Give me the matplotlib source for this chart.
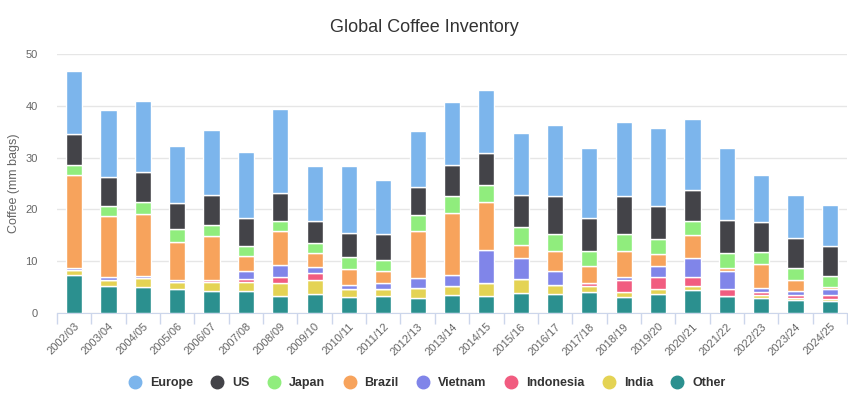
import matplotlib
matplotlib.use("Agg")
import matplotlib.pyplot as plt
from matplotlib.lines import Line2D
import numpy as np

plt.rcParams['font.family'] = ['Liberation Sans', 'DejaVu Sans']

years = ["2002/03", "2003/04", "2004/05", "2005/06", "2006/07", "2007/08", "2008/09",
         "2009/10", "2010/11", "2011/12", "2012/13", "2013/14", "2014/15", "2015/16",
         "2016/17", "2017/18", "2018/19", "2019/20", "2020/21", "2021/22", "2022/23",
         "2023/24", "2024/25"]

other =     [7.3, 5.3, 5.0, 4.6, 4.2, 4.2, 3.2, 3.6, 3.0, 3.2, 2.8, 3.4, 3.2, 3.8, 3.6, 4.0, 3.0, 3.6, 4.4, 3.2, 2.8, 2.6, 2.3]
india =     [1.0, 1.1, 1.8, 1.4, 1.8, 1.8, 2.6, 2.7, 1.7, 1.4, 2.1, 1.9, 2.5, 2.7, 1.9, 1.2, 1.0, 1.0, 0.8, 0.0, 0.6, 0.3, 0.4]
indonesia = [0.0, 0.0, 0.0, 0.0, 0.4, 0.6, 1.2, 1.5, 0.0, 0.0, 0.0, 0.0, 0.0, 0.0, 0.0, 0.6, 2.3, 2.3, 1.7, 1.4, 0.6, 0.5, 0.8]
vietnam =   [0.4, 0.5, 0.4, 0.3, 0.0, 1.5, 2.3, 1.0, 0.8, 1.2, 1.9, 2.1, 6.4, 4.1, 2.7, 0.0, 0.6, 2.1, 3.7, 3.5, 0.8, 0.8, 1.1]
brazil =    [17.9, 11.8, 11.9, 7.5, 8.4, 2.9, 6.5, 2.8, 2.9, 2.4, 9.1, 12.0, 9.3, 2.5, 3.7, 3.3, 5.0, 2.3, 4.4, 0.6, 4.6, 2.1, 0.5]
japan =     [2.0, 2.0, 2.3, 2.5, 2.2, 1.9, 2.0, 1.9, 2.5, 2.1, 3.1, 3.1, 3.3, 3.5, 3.3, 2.9, 3.3, 2.9, 2.7, 2.9, 2.3, 2.3, 2.1]
us =        [5.9, 5.5, 5.8, 5.0, 5.7, 5.5, 5.4, 4.2, 4.6, 5.0, 5.4, 6.0, 6.2, 6.2, 7.3, 6.4, 7.3, 6.4, 6.0, 6.4, 5.8, 5.8, 5.8]
europe =    [12.3, 12.9, 13.7, 11.0, 12.7, 12.7, 16.1, 10.7, 12.9, 10.4, 10.8, 12.3, 12.2, 12.0, 13.7, 13.5, 14.3, 15.1, 13.7, 13.9, 9.2, 8.4, 7.9]

series = [("Other", other, "#2b908f"),
          ("India", india, "#e4d354"),
          ("Indonesia", indonesia, "#f15c80"),
          ("Vietnam", vietnam, "#8085e9"),
          ("Brazil", brazil, "#f7a35c"),
          ("Japan", japan, "#90ed7d"),
          ("US", us, "#434348"),
          ("Europe", europe, "#7cb5ec")]

fig = plt.figure(figsize=(8.48, 3.98), dpi=100)
ax = fig.add_axes([57/848, 85/398, 790/848, 259/398])

x = np.arange(len(years))
bottom = np.zeros(len(years))
for name, vals, col in series:
    v = np.array(vals, dtype=float)
    ax.bar(x, v, width=0.47, bottom=bottom, color=col, edgecolor="white", linewidth=1, zorder=3)
    bottom += v

ax.set_xlim(-0.5, len(years) - 0.5)
ax.set_ylim(0, 50)
ax.set_yticks([0, 10, 20, 30, 40, 50])
ax.yaxis.grid(True, color="#e6e6e6", linewidth=1, zorder=0)
ax.tick_params(axis='y', length=0, labelsize=8, labelcolor="#666666", pad=14)
for s in ["top", "right", "left"]:
    ax.spines[s].set_visible(False)
ax.spines["bottom"].set_color("#ccd6eb")

ax.set_xticks(x)
ax.set_xticklabels(years, rotation=45, ha="right", rotation_mode="anchor", fontsize=8, color="#666666")
ax.tick_params(axis='x', length=0, pad=6)
ax.set_xticks(np.arange(-0.5, len(years), 1), minor=True)
ax.tick_params(axis='x', which='minor', length=8, color="#ccd6eb", width=1)

ax.set_ylabel("Coffee (mm bags)", fontsize=9, color="#666666", labelpad=4)

fig.text(0.5, 1 - 28/398, "Global Coffee Inventory", ha="center", va="center", fontsize=13, color="#333333")

handles = [Line2D([0], [0], marker='o', linestyle='None', markersize=9,
                  markerfacecolor=col, markeredgecolor=col, label=name)
           for name, vals, col in reversed(series)]
leg = fig.legend(handles=handles, loc="center", bbox_to_anchor=(0.5, 1 - 383/398), ncol=8,
                 frameon=False, handletextpad=0.2, columnspacing=0.95,
                 prop={"size": 9, "weight": "bold"})
for t in leg.get_texts():
    t.set_color("#333333")

fig.savefig("out.png", dpi=100)
